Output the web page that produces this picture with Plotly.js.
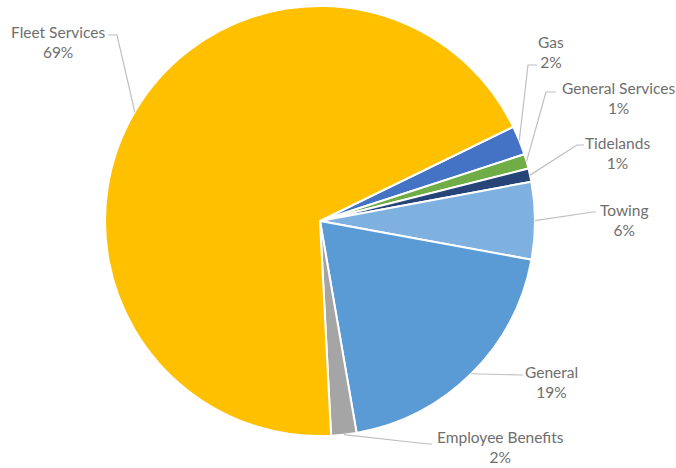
<!DOCTYPE html>
<html>
<head>
<meta charset="utf-8">
<script src="https://cdn.plot.ly/plotly-3.0.1.min.js"></script>
<style>html,body{margin:0;padding:0;background:#fff;}#chart{width:676px;height:468px;}</style>
</head>
<body>
<div id="chart"></div>
<script>
// Data
const categories = ["Gas", "General Services", "Tidelands", "Towing", "General", "Employee Benefits", "Fleet Services"];
const values = [2.2, 1.1, 1.0, 5.8, 19.4, 1.9, 68.6];
const colors = ["#4472C4", "#70AD47", "#264478", "#7FB1E0", "#5B9BD5", "#A5A5A5", "#FFC000"];

// Layout constants (pixels)
const W = 676, H = 468;
const CX = 320, CY = 221, R = 215;
const ROT = 64;
// label anchor (centre of text block) and elbow point of each leader line
const labelPos = {
  "Gas": [551, 52],
  "General Services": [618, 98],
  "Tidelands": [617, 153],
  "Towing": [624, 220],
  "General": [551, 382],
  "Employee Benefits": [500, 447],
  "Fleet Services": [58, 42]
};
const elbow = {
  "Gas": [[528, 65], [537, 65]],
  "General Services": [[546, 92], [556, 92]],
  "Tidelands": [[577, 145], [584, 145]],
  "Towing": [[593, 212], [596, 212]],
  "General": [[521, 375], [523, 375]],
  "Employee Benefits": [[428, 444], [432, 444]],
  "Fleet Services": [[117, 35], [108, 35]]
};

const px = x => x / W;
const py = y => 1 - y / H;

const total = values.reduce((a, b) => a + b, 0);
let cum = 0;
const shapes = [];
const annotations = [];
categories.forEach((c, i) => {
  const mid = (cum + values[i] / 2) / total;
  cum += values[i];
  const ang = (ROT + 360 * mid) * Math.PI / 180;
  const tx = CX + R * Math.sin(ang), ty = CY - R * Math.cos(ang);
  const [e1, e2] = elbow[c];
  shapes.push({
    type: "path", xref: "paper", yref: "paper",
    path: `M ${px(tx)} ${py(ty)} L ${px(e1[0])} ${py(e1[1])} L ${px(e2[0])} ${py(e2[1])}`,
    line: {color: "#BFBFBF", width: 1.2}
  });
  const pct = Math.round(values[i] / total * 100);
  annotations.push({
    xref: "paper", yref: "paper",
    x: px(labelPos[c][0]), y: py(labelPos[c][1]),
    xanchor: "center", yanchor: "middle", align: "center",
    showarrow: false,
    text: c + "<br>" + pct + "%",
    font: {family: "Lato, 'Open Sans', sans-serif", size: 15.5, color: "#6E6E6E"}
  });
});

const trace = {
  type: "pie",
  labels: categories,
  values: values,
  sort: false,
  direction: "clockwise",
  rotation: ROT,
  textinfo: "none",
  hoverinfo: "skip",
  marker: {colors: colors, line: {color: "#FFFFFF", width: 2}},
  domain: {x: [px(CX - R), px(CX + R)], y: [py(CY + R), py(CY - R)]},
  showlegend: false
};

const layout = {
  width: W, height: H,
  margin: {l: 0, r: 0, t: 0, b: 0},
  paper_bgcolor: "#FFFFFF",
  showlegend: false,
  shapes: shapes,
  annotations: annotations
};

Plotly.newPlot("chart", [trace], layout, {displayModeBar: false, staticPlot: true});
</script>
</body>
</html>
